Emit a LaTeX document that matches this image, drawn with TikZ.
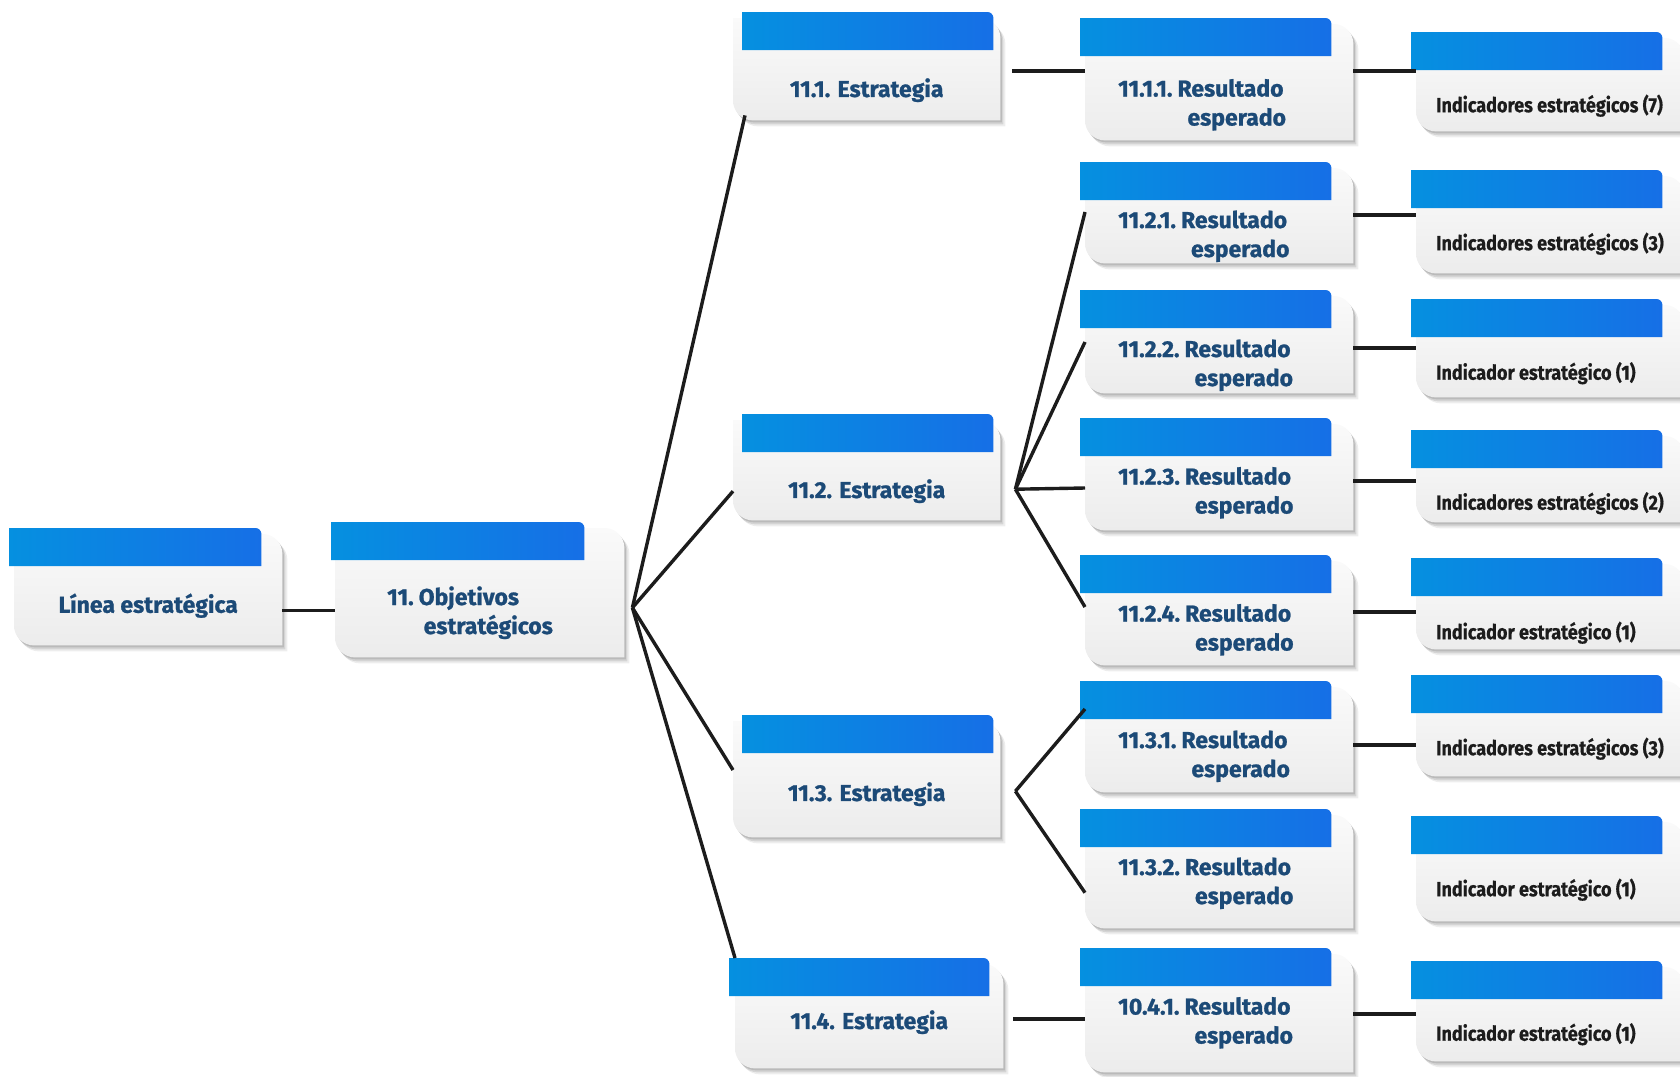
\documentclass[tikz,border=0pt]{standalone}
\usepackage{fontspec}
\setmainfont{Fira Sans}[BoldFeatures={FakeBold=1}]
\newfontfamily\indfamily{Fira Sans}[BoldFeatures={FakeBold=0.6,FakeStretch=0.88}]
\usetikzlibrary{calc,backgrounds,shadows}

\definecolor{barleft}{HTML}{0590E0}
\definecolor{barright}{HTML}{166FE6}
\definecolor{cardtop}{HTML}{FAFAFA}
\definecolor{cardbottom}{HTML}{ECECEC}
\definecolor{titleblue}{HTML}{1C4A77}
\definecolor{inkgray}{HTML}{1C1C1C}

\newcommand{\titlefont}{\fontsize{23}{29}\selectfont\bfseries}
\newcommand{\indfont}{\indfamily\fontsize{20.5}{25}\selectfont\bfseries}
\newcommand{\numlines}[4][10pt]{\begin{tabular}{@{}l@{\hspace{0.22em}}l@{}}#2&#3\\&\hspace{#1}#4\end{tabular}}
\newcommand{\lift}[2]{\raisebox{#1pt}[\height][\depth]{#2}}

% grey card and blue bar behind a node (node sits 5pt low): name, bar left shift, bar right inset
\newcommand{\cardbg}[3]{%
  \begin{pgfonlayer}{background}
    \shade[cardshade] let \p1=(#1.north west), \p2=(#1.south east) in
      (\x1,\y1+37pt) -- (\x2-20pt,\y1+37pt) arc[start angle=90,end angle=0,radius=20pt]
      -- (\x2,\y2+5pt) -- (\x1+20pt,\y2+5pt) arc[start angle=270,end angle=180,radius=20pt] -- cycle;
    \shade[left color=barleft, right color=barright] let \p1=(#1.north west), \p2=(#1.north east) in
      ({\x1+(#2)*1pt},\y1+5pt) -- ({\x1+(#2)*1pt},\y1+43pt) -- ({\x2-(#3)*1pt-6pt},\y1+43pt)
      arc[start angle=90,end angle=0,radius=6pt] -- ({\x2-(#3)*1pt},\y1+5pt) -- cycle;
  \end{pgfonlayer}}

\begin{document}
\begin{tikzpicture}[x=1pt,y=-1pt]
  \tikzstyle{card}=[inner sep=0pt, anchor=north west, yshift=-5pt, minimum width=268pt, text=titleblue, font=\titlefont]
  \tikzstyle{numcard}=[card, inner xsep=33pt, text width=202pt, align=left]
  \tikzstyle{indcard}=[card, inner xsep=20pt, text=inkgray, font=\indfont]
  \tikzstyle{link}=[draw=inkgray, line width=3.4pt]
  \tikzstyle{cardshade}=[top color=cardtop, bottom color=cardbottom,
    drop shadow={shadow xshift=5pt, shadow yshift=-6pt, opacity=0.07, fill=black},
    drop shadow={shadow xshift=3pt, shadow yshift=-4pt, opacity=0.10, fill=black},
    drop shadow={shadow xshift=1.5pt, shadow yshift=-2pt, opacity=0.12, fill=black}]

  \useasboundingbox (0,0) rectangle (1680,1076);
  \begin{pgfonlayer}{background}
    \fill[white] (0,0) rectangle (1680,1076);
  \end{pgfonlayer}

  \node (lin) [card, minimum height=79pt] at (14,566) {\lift{5}{L\'inea estrat\'egica}};
  \cardbg{lin}{-5}{21}
  \node (obj) [numcard, inner xsep=52pt, text width=185pt, minimum height=97pt] at (335,560) {\numlines[5pt]{11.}{Objetivos}{estrat\'egicos}};
  \cardbg{obj}{-4}{40}

  % estrategias
  \foreach \k/\y/\h/\dy in {1/50/70/0, 2/452/68/0, 3/753/84/6} {
    \node (e\k) [card, minimum width=267pt, minimum height=\h pt] at (733,\y) {\lift{\dy}{11.\k. Estrategia}};
    \cardbg{e\k}{9}{7}
  }
  \node (e4) [card, minimum height=72pt] at (735,996) {\lift{15}{11.4. Estrategia}};
  \cardbg{e4}{-6}{14}

  % resultados
  \foreach \k/\y/\h/\dy/\t in {11/56/84/-2/11.1.1., 21/200/63/0/11.2.1., 22/328/65/0/11.2.2., 23/456/74/5/11.2.3.,
                               24/593/72/4/11.2.4., 31/719/73/4/11.3.1., 32/847/81/9/11.3.2., 41/986/86/11/10.4.1.} {
    \node (r\k) [numcard, minimum height=\h pt] at (1085,\y) {\lift{\dy}{\numlines{\t}{Resultado}{esperado}}};
    \cardbg{r\k}{-5}{22}
  }

  % indicadores
  \foreach \k/\y/\h/\dy/\t in {11/70/61/0/Indicadores estrat\'egicos (7), 21/208/65/2/Indicadores estrat\'egicos (3),
                               22/337/60/-1/Indicador estrat\'egico (1), 23/468/54/-3/Indicadores estrat\'egicos (2),
                               24/596/53/-5/Indicador estrat\'egico (1), 31/713/63/1/Indicadores estrat\'egicos (3),
                               32/854/67/3/Indicador estrat\'egico (1), 41/999/62/1/Indicador estrat\'egico (1)} {
    \node (i\k) [indcard, minimum height=\h pt] at (1416,\y) {\lift{\dy}{\makebox[228pt][l]{\t}}};
    \cardbg{i\k}{-5}{22}
  }

  \draw[link] (lin.east) -- (lin.east -| obj.west);

  \coordinate (hubO) at ($(obj.east)+(8,-6)$);
  \draw[link] (hubO) -- ($(e1.south west)+(12,-10)$);
  \draw[link] (hubO) -- (e2.west);
  \draw[link] (hubO) -- ($(e3.north west)+(0,12)$);
  \draw[link] (hubO) -- ($(e4.north west)+(0,-43)$);

  \draw[link] ($(e1.north east)+(12,16)$) -- ($(r11.north west)+(0,10)$);

  \coordinate (hub2) at ($(e2.east)+(15,-2)$);
  \draw[link] (hub2) -- ($(r21.north west)+(0,7)$);
  \draw[link] (hub2) -- ($(r22.north west)+(0,9)$);
  \draw[link] (hub2) -- ($(r23.north west)+(0,27)$);
  \draw[link] (hub2) -- ($(r24.north west)+(0,9)$);

  \coordinate (hub3) at ($(e3.east)+(15,-9)$);
  \draw[link] (hub3) -- ($(r31.north west)+(0,-15)$);
  \draw[link] (hub3) -- (r32.west);

  \draw[link] ($(e4.north east)+(10,18)$) -- ($(r41.north west)+(0,28)$);

  \foreach \k/\y in {11/71, 21/215, 22/348, 23/481, 24/612, 31/745, 41/1014}
    \draw[link] (r\k.east |- 0,\y) -- (i\k.west |- 0,\y);

\end{tikzpicture}
\end{document}
